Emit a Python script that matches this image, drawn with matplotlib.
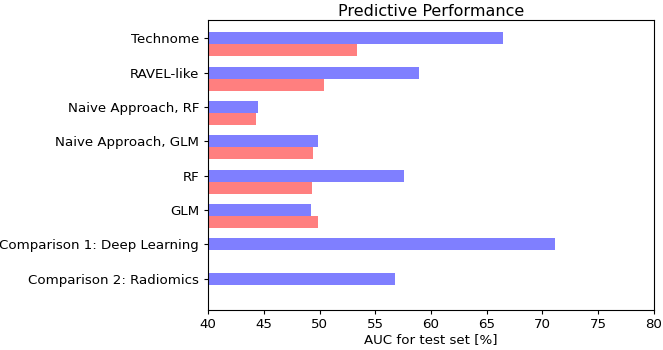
import numpy as np
import matplotlib
matplotlib.use("Agg")
import matplotlib.pyplot as plt

labels = ["Technome", "RAVEL-like", "Naive Approach, RF", "Naive Approach, GLM",
          "RF", "GLM", "Comparison 1: Deep Learning", "Comparison 2: Radiomics"]
auc_blue = [66.5, 58.9, 44.5, 49.9, 57.6, 49.2, 71.1, 56.8]
auc_red = [53.4, 50.4, 44.3, 49.4, 49.3, 49.9, np.nan, np.nan]

h = 0.35
y = np.arange(len(labels))

fig, ax = plt.subplots(figsize=(6.63, 3.5), dpi=100)
fig.subplots_adjust(left=0.314, right=0.986, top=0.943, bottom=0.114)

ax.barh(y, auc_blue, h, color="blue", alpha=0.5)
ax.barh(y + h, auc_red, h, color="red", alpha=0.5)

ax.set_yticks(y)
ax.set_yticklabels(labels)
ax.tick_params(labelsize=9.6, length=3, pad=2.5)
ax.tick_params(axis="y", pad=3.5)
ax.set_xlim(40, 80)
ax.set_ylim(7.91, -0.53)
ax.set_xlabel("AUC for test set [%]", fontsize=9.6, labelpad=2)
ax.set_title("Predictive Performance", fontsize=11.5, pad=3)
for s in ax.spines.values():
    s.set_linewidth(0.8)

plt.savefig("out.png")
